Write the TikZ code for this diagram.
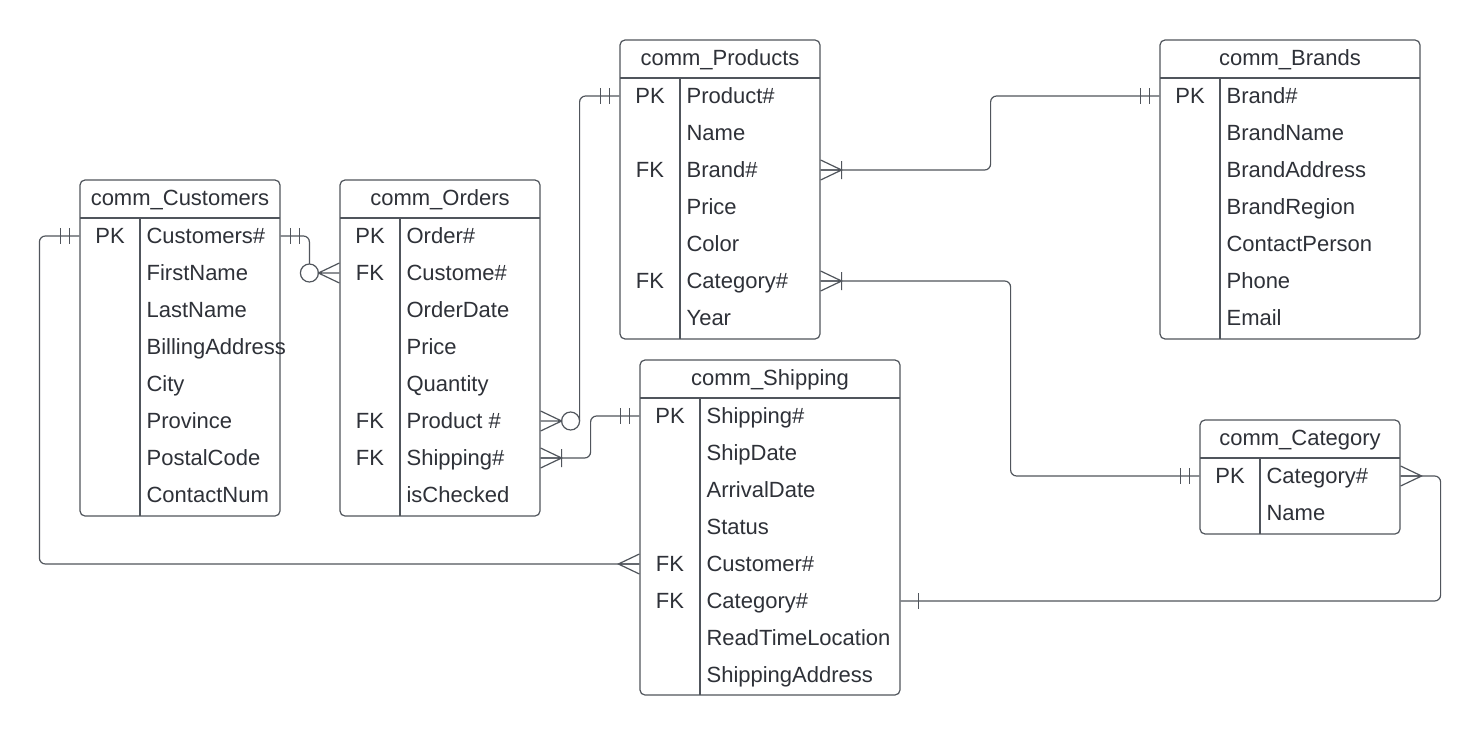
\documentclass[tikz,border=0pt]{standalone}
\usepackage{fontspec}
\setmainfont{Liberation Sans}
\usetikzlibrary{positioning}
\definecolor{linec}{HTML}{50555C}
\definecolor{textc}{HTML}{2E3138}
\tikzset{every picture/.style={line width=1.2pt}}
\tikzset{
  tbl/.style={draw=linec, line width=1.2pt},
  conn/.style={draw=linec, line width=1.2pt, rounded corners=6pt},
  endmark/.style={draw=linec, line width=1.2pt},
  rowbox/.style={inner sep=0pt, minimum height=37pt},
  title/.style={text=textc, anchor=base, inner sep=0pt, font=\fontsize{22}{26}\selectfont},
  key/.style={text=textc, anchor=base, inner sep=0pt, font=\fontsize{22}{26}\selectfont},
  field/.style={text=textc, anchor=base west, inner sep=0pt, font=\fontsize{22}{26}\selectfont},
  pics/twobars/.style={code={\draw[endmark] (10,-8) -- (10,8) (19,-8) -- (19,8);}},
  pics/onebar/.style={code={\draw[endmark] (18,-8) -- (18,8);}},
  pics/crow/.style={code={\draw[endmark] (0,-10) -- (21,0) -- (0,10) (0,0) -- (21,0);}},
  pics/crowbar/.style={code={\draw[endmark] (0,-10) -- (21,0) -- (0,10) (0,0) -- (21,0) (21,-9) -- (21,9);}},
  pics/crowzero/.style={code={\draw[endmark] (0,-10) -- (21,0) -- (0,10) (0,0) -- (21,0) (30,0) circle (9pt);}},
}

\begin{document}
\begin{tikzpicture}[x=1pt, y=-1pt]

    \fill[white] (0,0) rectangle (1481,736);
    \useasboundingbox (0,0) rectangle (1481,736);

    % --- comm_Customers ---
    \begin{scope}[shift={(80,180)}]
        \draw[tbl, rounded corners=5pt] (0,0) rectangle (200,336);
        \draw[tbl] (0,38) -- (200,38) (60,38) -- (60,336);
        \node[title] at (100,25) {comm\_Customers};
        \foreach \k/\f [count=\i] in {PK/Customers\#, /FirstName, /LastName, /BillingAddress, /City, /Province, /PostalCode, /ContactNum} {
            \node[rowbox, minimum width=200pt] (cust-\i) at (100,{19+37*\i}) {};
            \node[key] at (30,{26+37*\i}) {\k};
            \node[field] at (66,{26+37*\i}) {\f};
        }
    \end{scope}

    % --- comm_Orders ---
    \begin{scope}[shift={(340,180)}]
        \draw[tbl, rounded corners=5pt] (0,0) rectangle (200,336);
        \draw[tbl] (0,38) -- (200,38) (60,38) -- (60,336);
        \node[title] at (100,25) {comm\_Orders};
        \foreach \k/\f [count=\i] in {PK/Order\#, FK/Custome\#, /OrderDate, /Price, /Quantity, FK/Product \#, FK/Shipping\#, /isChecked} {
            \node[rowbox, minimum width=200pt] (ord-\i) at (100,{19+37*\i}) {};
            \node[key] at (30,{26+37*\i}) {\k};
            \node[field] at (66,{26+37*\i}) {\f};
        }
    \end{scope}

    % --- comm_Products ---
    \begin{scope}[shift={(620,40)}]
        \draw[tbl, rounded corners=5pt] (0,0) rectangle (200,299);
        \draw[tbl] (0,38) -- (200,38) (60,38) -- (60,299);
        \node[title] at (100,25) {comm\_Products};
        \foreach \k/\f [count=\i] in {PK/Product\#, /Name, FK/Brand\#, /Price, /Color, FK/Category\#, /Year} {
            \node[rowbox, minimum width=200pt] (prod-\i) at (100,{19+37*\i}) {};
            \node[key] at (30,{26+37*\i}) {\k};
            \node[field] at (66,{26+37*\i}) {\f};
        }
    \end{scope}

    % --- comm_Brands ---
    \begin{scope}[shift={(1160,40)}]
        \draw[tbl, rounded corners=5pt] (0,0) rectangle (260,299);
        \draw[tbl] (0,38) -- (260,38) (60,38) -- (60,299);
        \node[title] at (130,25) {comm\_Brands};
        \foreach \k/\f [count=\i] in {PK/Brand\#, /BrandName, /BrandAddress, /BrandRegion, /ContactPerson, /Phone, /Email} {
            \node[rowbox, minimum width=260pt] (brand-\i) at (130,{19+37*\i}) {};
            \node[key] at (30,{26+37*\i}) {\k};
            \node[field] at (66,{26+37*\i}) {\f};
        }
    \end{scope}

    % --- comm_Shipping ---
    \begin{scope}[shift={(640,360)}]
        \draw[tbl, rounded corners=5pt] (0,0) rectangle (260,335);
        \draw[tbl] (0,38) -- (260,38) (60,38) -- (60,335);
        \node[title] at (130,25) {comm\_Shipping};
        \foreach \k/\f [count=\i] in {PK/Shipping\#, /ShipDate, /ArrivalDate, /Status, FK/Customer\#, FK/Category\#, /ReadTimeLocation, /ShippingAddress} {
            \node[rowbox, minimum width=260pt] (ship-\i) at (130,{19+37*\i}) {};
            \node[key] at (30,{26+37*\i}) {\k};
            \node[field] at (66,{26+37*\i}) {\f};
        }
    \end{scope}

    % --- comm_Category ---
    \begin{scope}[shift={(1200,420)}]
        \draw[tbl, rounded corners=5pt] (0,0) rectangle (200,114);
        \draw[tbl] (0,38) -- (200,38) (60,38) -- (60,114);
        \node[title] at (100,25) {comm\_Category};
        \foreach \k/\f [count=\i] in {PK/Category\#, /Name} {
            \node[rowbox, minimum width=200pt] (cat-\i) at (100,{19+37*\i}) {};
            \node[key] at (30,{26+37*\i}) {\k};
            \node[field] at (66,{26+37*\i}) {\f};
        }
    \end{scope}

    % Customers -- Orders
    \draw[conn] (cust-1.east) -| ([xshift=-30pt,yshift=9pt]ord-2.west);
    \pic at (cust-1.east) {twobars};
    \pic[xscale=-1] at (ord-2.west) {crowzero};

    % Orders -- Products
    \draw[conn] ([xshift=39pt]ord-6.east) |- (prod-1.west);
    \pic at (ord-6.east) {crowzero};
    \pic[xscale=-1] at (prod-1.west) {twobars};

    % Orders -- Shipping
    \draw[conn] (ord-7.east) -- ++(50,0) |- (ship-1.west);
    \pic at (ord-7.east) {crowbar};
    \pic[xscale=-1] at (ship-1.west) {twobars};

    % Products -- Brands
    \draw[conn] (prod-3.east) -- ++(170,0) |- (brand-1.west);
    \pic at (prod-3.east) {crowbar};
    \pic[xscale=-1] at (brand-1.west) {twobars};

    % Products -- Category
    \draw[conn] (prod-6.east) -- ++(190,0) |- (cat-1.west);
    \pic at (prod-6.east) {crowbar};
    \pic[xscale=-1] at (cat-1.west) {twobars};

    % Customers -- Shipping
    \draw[conn] (cust-1.west) -- ++(-40,0) |- (ship-5.west);
    \pic[xscale=-1] at (cust-1.west) {twobars};
    \pic[xscale=-1] at (ship-5.west) {crow};

    % Shipping -- Category
    \draw[conn] (ship-6.east) -- ++(540,0) |- (cat-1.east);
    \pic at (ship-6.east) {onebar};
    \pic at (cat-1.east) {crow};

\end{tikzpicture}
\end{document}
